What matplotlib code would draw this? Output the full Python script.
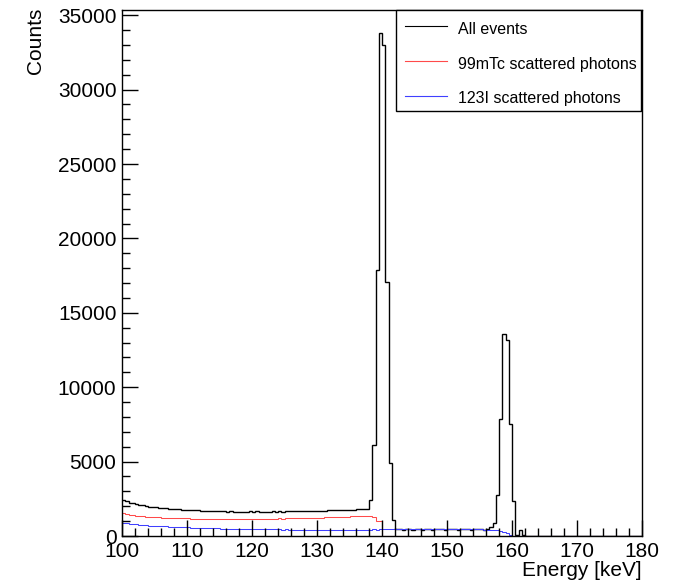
"""
Energy spectrum: all events vs scattered photons (ROOT-style histogram).
"""
import numpy as np
import matplotlib
matplotlib.use("Agg")
import matplotlib.pyplot as plt
from matplotlib.patches import Rectangle
from matplotlib.lines import Line2D
from matplotlib.ticker import MultipleLocator

plt.rcParams['font.family'] = ['Liberation Sans', 'DejaVu Sans']

# 0.5 keV bins from 100 to 180 keV
e_min, e_max, bin_width = 100.0, 180.0, 0.5

all_events = [
    # 100-110
    2400, 2320, 2250, 2190, 2140, 2090, 2050, 2010, 1980, 1950,
    1920, 1900, 1880, 1860, 1840, 1820, 1800, 1790, 1780, 1760,
    # 110-120
    1750, 1740, 1720, 1730, 1700, 1710, 1680, 1690, 1660, 1670,
    1650, 1660, 1630, 1650, 1640, 1620, 1640, 1630, 1640, 1650,
    # 120-130
    1630, 1650, 1640, 1620, 1640, 1630, 1650, 1640, 1660, 1640,
    1660, 1650, 1670, 1660, 1680, 1670, 1690, 1680, 1700, 1690,
    # 130-140
    1700, 1690, 1710, 1720, 1730, 1720, 1740, 1750, 1760, 1770,
    1780, 1780, 1790, 1800, 1790, 1810, 2400, 6100, 17900, 33800,
    # 140-150
    33000, 17100, 4900, 1100, 450, 440, 430, 450, 440, 430,
    450, 440, 430, 440, 450, 430, 440, 450, 440, 430,
    # 150-160
    440, 450, 440, 430, 450, 440, 450, 430, 440, 450,
    440, 430, 450, 580, 850, 2750, 7830, 13550, 13200, 7500,
    # 160-170
    2370, 60, 400, 40, 20, 0, 10, 0, 0, 10,
    0, 0, 0, 0, 0, 0, 0, 0, 0, 0,
    # 170-180
    0, 0, 0, 0, 0, 0, 0, 0, 0, 0,
    0, 0, 0, 0, 0, 0, 0, 0, 0, 0,
]

tc99m_scatter = [
    # 100-110
    1520, 1470, 1430, 1400, 1370, 1340, 1320, 1300, 1290, 1270,
    1260, 1250, 1240, 1230, 1220, 1210, 1200, 1200, 1190, 1180,
    # 110-120
    1180, 1170, 1160, 1170, 1150, 1160, 1140, 1150, 1130, 1140,
    1130, 1150, 1120, 1140, 1130, 1120, 1140, 1130, 1140, 1150,
    # 120-130
    1140, 1160, 1150, 1140, 1160, 1150, 1170, 1160, 1180, 1170,
    1190, 1180, 1200, 1190, 1210, 1200, 1220, 1210, 1230, 1220,
    # 130-140
    1240, 1230, 1250, 1260, 1270, 1260, 1280, 1290, 1300, 1310,
    1320, 1320, 1330, 1340, 1330, 1350, 1340, 1300, 1020, 980,
    # 140-150
    30, 0, 0, 0, 0, 0, 0, 0, 0, 0,
    0, 0, 0, 0, 0, 0, 0, 0, 0, 0,
    # 150-160
    0, 0, 0, 0, 0, 0, 0, 0, 0, 0,
    0, 0, 0, 0, 0, 0, 0, 0, 0, 0,
    # 160-170
    0, 0, 0, 0, 0, 0, 0, 0, 0, 0,
    0, 0, 0, 0, 0, 0, 0, 0, 0, 0,
    # 170-180
    0, 0, 0, 0, 0, 0, 0, 0, 0, 0,
    0, 0, 0, 0, 0, 0, 0, 0, 0, 0,
]

i123_scatter = [
    # 100-110
    890, 860, 830, 800, 780, 760, 740, 720, 700, 690,
    670, 660, 650, 640, 630, 610, 600, 600, 590, 580,
    # 110-120
    580, 570, 560, 550, 545, 540, 530, 520, 515, 510,
    500, 500, 495, 490, 485, 480, 480, 475, 470, 470,
    # 120-130
    465, 460, 460, 455, 450, 450, 445, 440, 440, 435,
    440, 430, 435, 430, 425, 430, 420, 425, 420, 420,
    # 130-140
    420, 415, 420, 410, 420, 415, 410, 420, 415, 420,
    425, 420, 430, 425, 430, 435, 430, 440, 435, 440,
    # 140-150
    440, 445, 440, 450, 445, 450, 440, 450, 455, 450,
    445, 450, 455, 450, 460, 455, 450, 455, 460, 455,
    # 150-160
    460, 455, 465, 460, 455, 460, 465, 460, 455, 450,
    440, 430, 420, 410, 400, 380, 340, 280, 200, 100,
    # 160-170
    0, 0, 0, 0, 0, 0, 0, 0, 0, 0,
    0, 0, 0, 0, 0, 0, 0, 0, 0, 0,
    # 170-180
    0, 0, 0, 0, 0, 0, 0, 0, 0, 0,
    0, 0, 0, 0, 0, 0, 0, 0, 0, 0,
]

x_ticks = [100, 110, 120, 130, 140, 150, 160, 170, 180]
y_ticks = [0, 5000, 10000, 15000, 20000, 25000, 30000, 35000]
legend_labels = ["All events", "99mTc scattered photons", "123I scattered photons"]
colors = ["black", "#ff4a4a", "#4040ff"]

edges = np.arange(e_min, e_max + bin_width / 2, bin_width)

W, H = 677, 585
fig = plt.figure(figsize=(W / 100, H / 100), dpi=100)
ax = fig.add_axes([122 / W, 49 / H, 520 / W, 526 / H])

series = [all_events, tc99m_scatter, i123_scatter]
widths = [1.0, 0.75, 0.75]
for vals, c, lw in zip(series, colors, widths):
    ax.stairs(vals, edges, baseline=None, color=c, lw=lw)

ax.set_xlim(e_min, e_max)
ax.set_ylim(0, 35350)
ax.set_xticks(x_ticks)
ax.set_xticklabels([str(t) for t in x_ticks])
ax.set_yticks(y_ticks)
ax.set_yticklabels([str(t) for t in y_ticks])
ax.xaxis.set_minor_locator(MultipleLocator(2))
ax.yaxis.set_minor_locator(MultipleLocator(1000))
ax.tick_params(which='both', direction='in', top=False, right=False,
               labelsize=15, width=1.0, color='black')
ax.tick_params(which='major', length=11.5)
ax.tick_params(which='minor', length=6)
ax.tick_params(axis='x', pad=4)
ax.tick_params(axis='y', pad=4)
for sp in ax.spines.values():
    sp.set_linewidth(1.0)

fig.text(35 / W, 1 - 8 / H, "Counts", rotation=90, ha='center', va='top', fontsize=15)
fig.text(642 / W, 1 - 576 / H, "Energy [keV]", ha='right', va='baseline', fontsize=15)

# legend box (ROOT style, with a thin shadow)
bx0, bx1, by0, by1 = 396, 641, 10, 111
fig.patches.append(Rectangle(((bx0 + 1) / W, 1 - (by1 + 1) / H), (bx1 - bx0) / W,
                             (by1 - by0) / H, transform=fig.transFigure,
                             facecolor='#333333', edgecolor='none', lw=0, zorder=5))
fig.patches.append(Rectangle((bx0 / W, 1 - by1 / H), (bx1 - bx0) / W, (by1 - by0) / H,
                             transform=fig.transFigure, facecolor='white',
                             edgecolor='black', lw=1.0, zorder=6))
line_y = [26, 61, 96]
text_base = [34, 69, 103]
for lab, c, ly, ty in zip(legend_labels, colors, line_y, text_base):
    fig.add_artist(Line2D([405 / W, 447 / W], [1 - ly / H, 1 - ly / H], color=c,
                          lw=0.8, transform=fig.transFigure, zorder=7))
    fig.text(458 / W, 1 - ty / H, lab, ha='left', va='baseline', fontsize=11.5, zorder=7)

fig.savefig("out.png", dpi=100)
